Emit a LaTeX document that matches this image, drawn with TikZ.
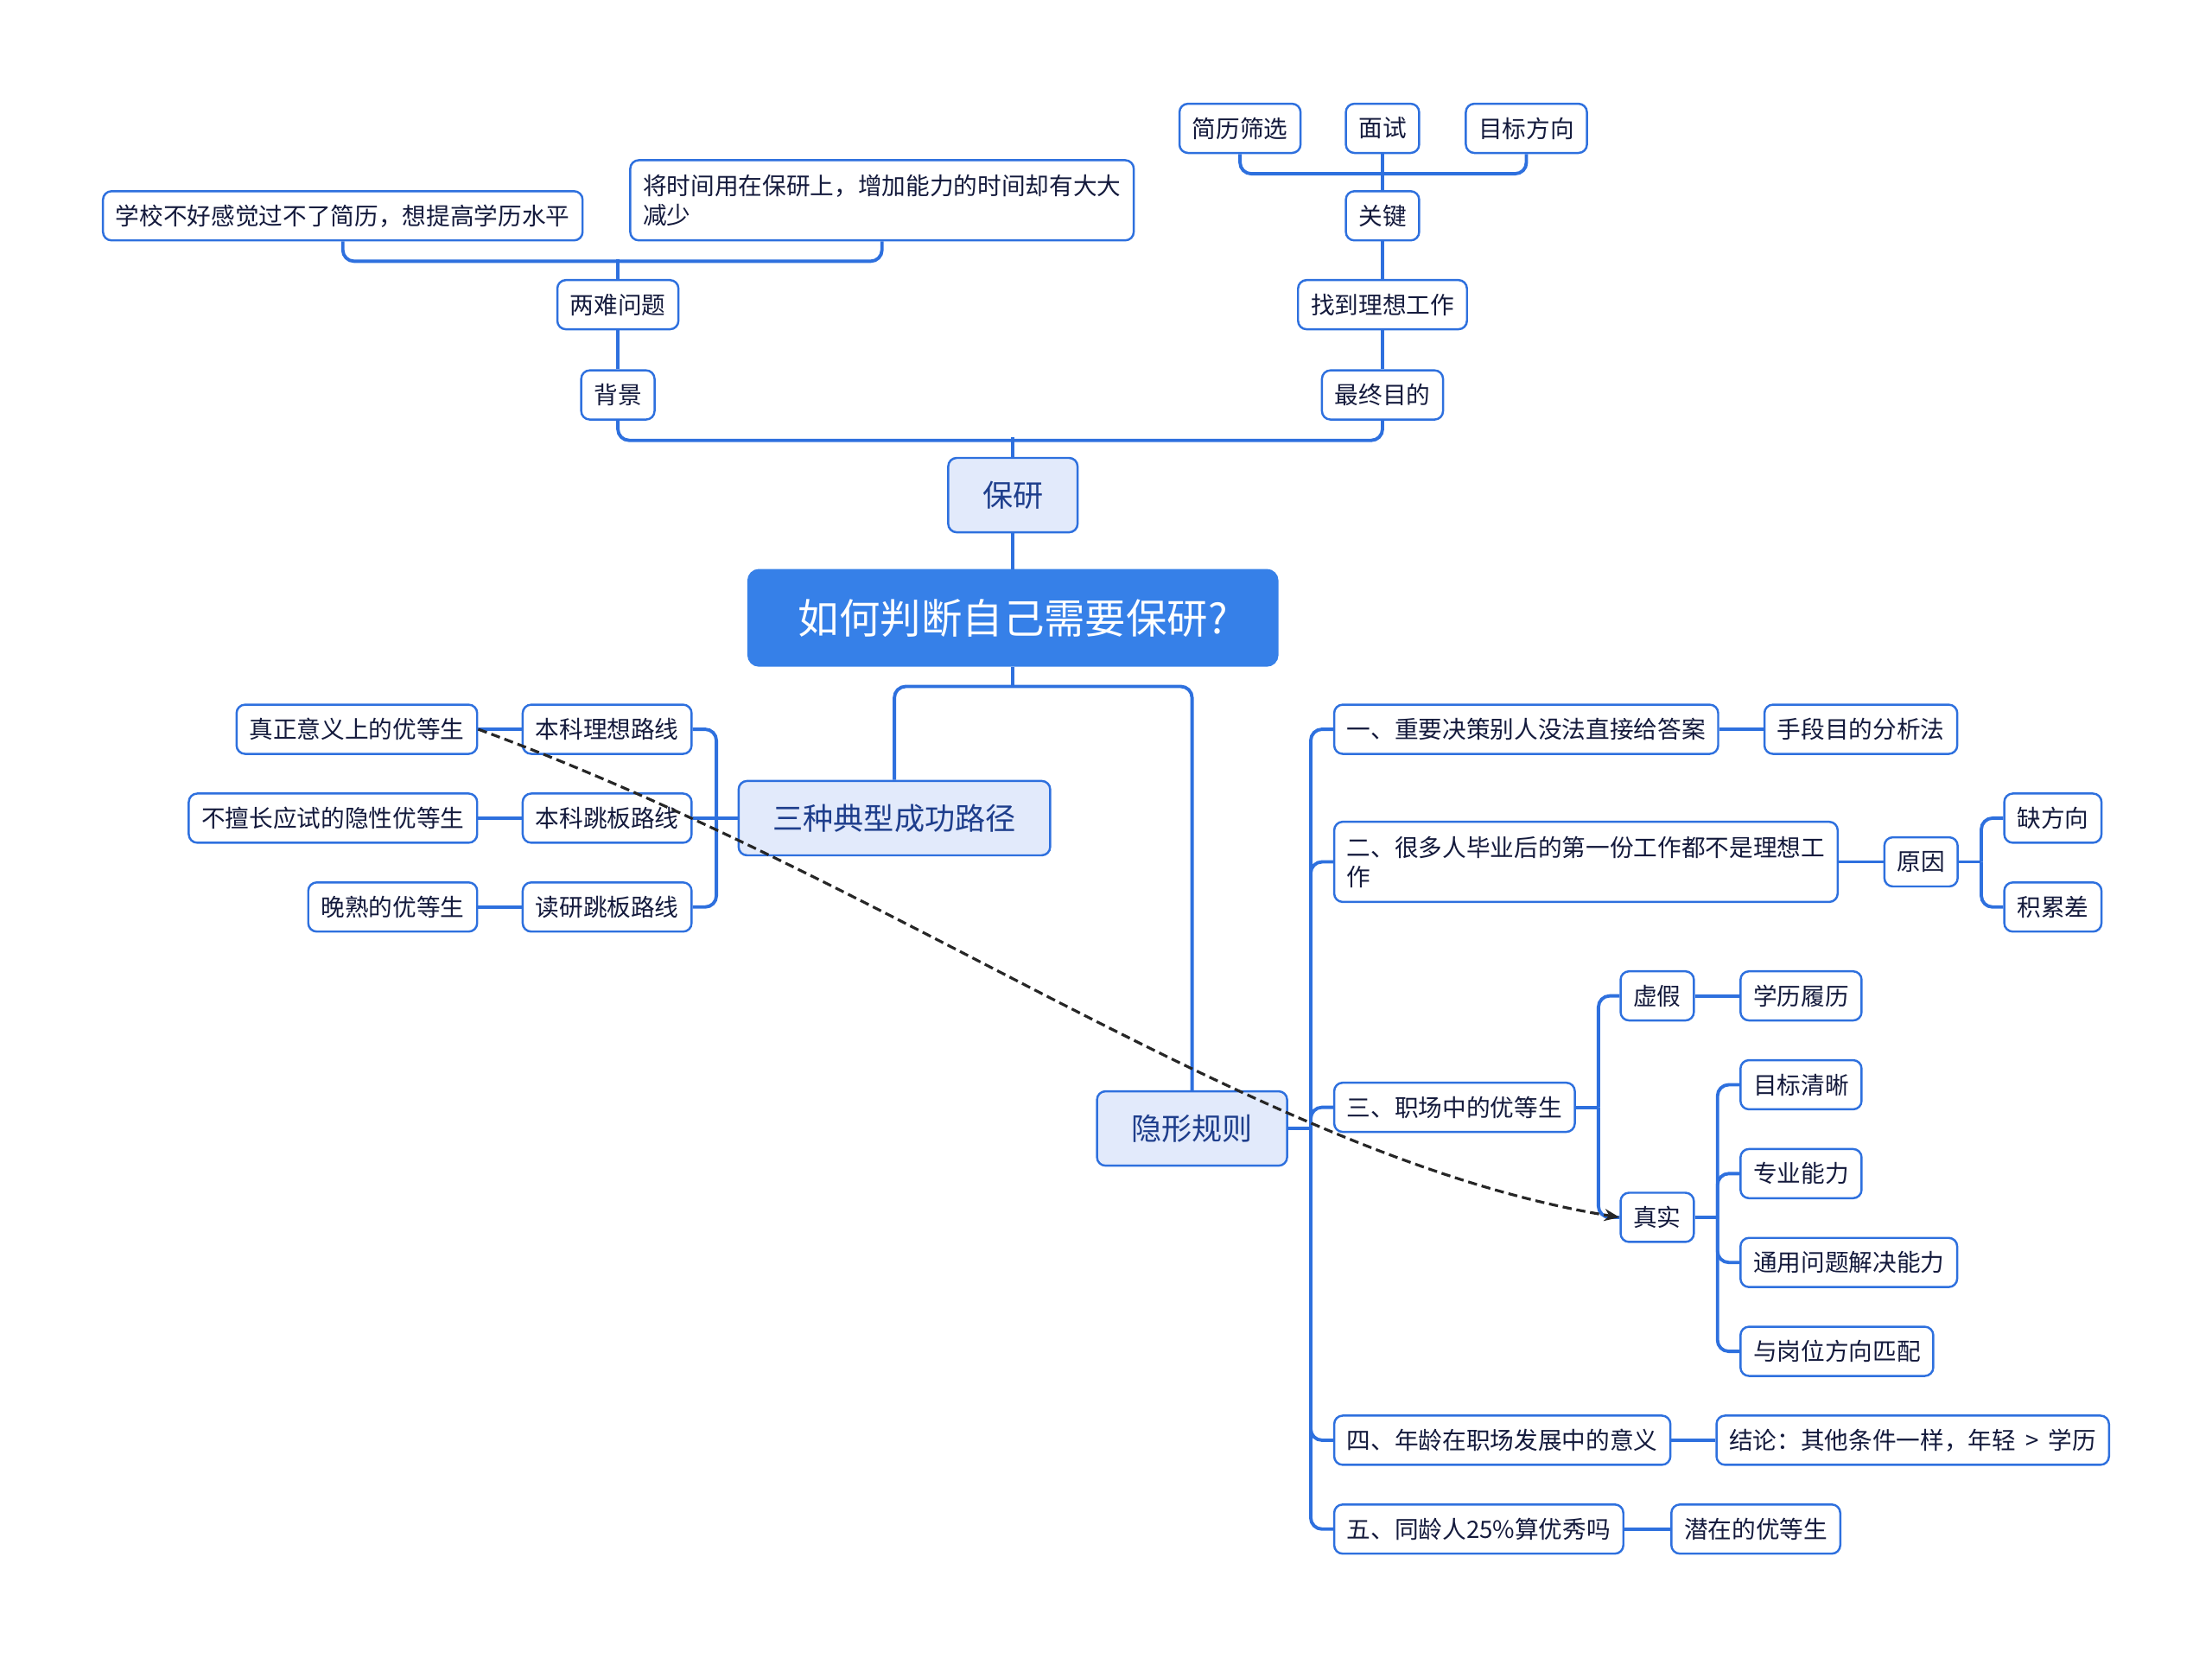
\documentclass[tikz,border=0pt]{standalone}
\usepackage{fontspec}
\setmainfont{Noto Sans CJK SC}
\usetikzlibrary{arrows.meta,calc}
\definecolor{lineblue}{RGB}{46,112,222}
\definecolor{rootfill}{RGB}{54,128,232}
\definecolor{lightfill}{RGB}{226,234,251}
\definecolor{txt}{RGB}{20,26,60}
\definecolor{txtblue}{RGB}{30,62,140}
\begin{document}
\begin{tikzpicture}[x=0.016327cm,y=-0.016327cm,
  box/.style={draw=lineblue, line width=0.7pt, rounded corners=2.8pt, fill=white, text=txt,
    font=\fontsize{7.87}{9.7}\selectfont, inner xsep=4.2pt, inner ysep=0pt, minimum height=16.2pt},
  multi/.style={box, align=left, minimum height=26.4pt},
  lvl/.style={box, fill=lightfill, text=txtblue, font=\fontsize{10}{12}\selectfont, inner xsep=11.3pt, minimum height=24.5pt},
  rootbox/.style={draw=rootfill, fill=rootfill, text=white, line width=0.7pt, rounded corners=3.5pt,
    font=\fontsize{13.5}{16}\selectfont, inner xsep=16.4pt, inner ysep=0pt, minimum height=31.5pt},
  conn/.style={draw=lineblue, line width=1.1pt, rounded corners=3.7pt},
  rel/.style={draw=black!85, line width=0.9pt, dash pattern=on 3pt off 1.6pt, -{Stealth[length=5pt,width=4pt]}}
]
\useasboundingbox (0,0) rectangle (1568,1175);
% nodes
\node[lvl] (baoyan) at (718,351) {保研};
\node[rootbox] (root) at (718,438) {如何判断自己需要保研?};
\node[box] (beijing) at (438,280) {背景};
\node[box] (liangnan) at (438,216) {两难问题};
\node[box] (xuexiao) at (243,153) {学校不好感觉过不了简历，想提高学历水平};
\node[multi, anchor=west] (jiang) at (446,142) {将时间用在保研上，增加能力的时间却有大大\\减少};
\node[box] (zuizhong) at (980,280) {最终目的};
\node[box] (zhaodao) at (980,216) {找到理想工作};
\node[box] (guanjian) at (980,153) {关键};
\node[box] (jianli) at (879,91) {简历筛选};
\node[box] (mianshi) at (980,91) {面试};
\node[box] (mubiao) at (1082,91) {目标方向};
\node[lvl] (sanzhong) at (634,580) {三种典型成功路径};
\node[lvl] (yinxing) at (845,800) {隐形规则};
% left
\node[box, anchor=east] (lx1) at (491,517) {本科理想路线};
\node[box, anchor=east] (lx2) at (491,580) {本科跳板路线};
\node[box, anchor=east] (lx3) at (491,643) {读研跳板路线};
\node[box, anchor=east] (ys1) at (339,517) {真正意义上的优等生};
\node[box, anchor=east] (ys2) at (339,580) {不擅长应试的隐性优等生};
\node[box, anchor=east] (ys3) at (339,643) {晚熟的优等生};
% right
\node[box, anchor=west] (r1) at (945,517) {一、重要决策别人没法直接给答案};
\node[box, anchor=west] (r1a) at (1250,517) {手段目的分析法};
\node[multi, anchor=west] (r2) at (945,611) {二、很多人毕业后的第一份工作都不是理想工\\作};
\node[box, anchor=west] (r2a) at (1335,611) {原因};
\node[box, anchor=west] (r2b) at (1420,580) {缺方向};
\node[box, anchor=west] (r2c) at (1420,643) {积累差};
\node[box, anchor=west] (r3) at (945,785) {三、职场中的优等生};
\node[box, anchor=west] (xujia) at (1148,706) {虚假};
\node[box, anchor=west] (xueli) at (1233,706) {学历履历};
\node[box, anchor=west] (zhenshi) at (1148,863) {真实};
\node[box, anchor=west] (zs1) at (1233,769) {目标清晰};
\node[box, anchor=west] (zs2) at (1233,832) {专业能力};
\node[box, anchor=west] (zs3) at (1233,895) {通用问题解决能力};
\node[box, anchor=west] (zs4) at (1233,958) {与岗位方向匹配};
\node[box, anchor=west] (r4) at (945,1021) {四、年龄在职场发展中的意义};
\node[box, anchor=west] (r4a) at (1216,1021) {结论：其他条件一样，年轻\hspace{0.4em}>\hspace{0.4em}学历};
\node[box, anchor=west] (r5) at (945,1084) {五、同龄人25\%算优秀吗};
\node[box, anchor=west] (r5a) at (1184,1084) {潜在的优等生};
% connectors top
\draw[conn] (baoyan.south) -- (root.north);
\draw[conn] (baoyan.north) -- ++(0,-14);
\draw[conn] (beijing.south) -- ++(0,14) -| (zuizhong.south);
\draw[conn] (beijing.north) -- (liangnan.south);
\draw[conn] (liangnan.north) -- ++(0,-14);
\draw[conn] (xuexiao.south) -- ++(0,14) -| (jiang.south);
\draw[conn] (zuizhong.north) -- (zhaodao.south);
\draw[conn] (zhaodao.north) -- (guanjian.south);
\draw[conn] (guanjian.north) -- (mianshi.south);
\draw[conn] (jianli.south) -- ++(0,14) -| (mubiao.south);
% root down
\coordinate (rj) at ($(root.south)+(0,14)$);
\draw[conn] (root.south) -- (rj);
\draw[conn] (sanzhong.north) |- (rj) -| (yinxing.north);
% left
\coordinate (lj) at ($(sanzhong.west)+(-15,0)$);
\draw[conn] (sanzhong.west) -- (lj);
\draw[conn] (lx1.east) -| (lj) |- (lx3.east);
\draw[conn] (lx2.east) -- (lj);
\draw[conn] (lx1.west) -- (ys1.east);
\draw[conn] (lx2.west) -- (ys2.east);
\draw[conn] (lx3.west) -- (ys3.east);
% right spine
\coordinate (sj) at ($(yinxing.east)+(16,0)$);
\draw[conn] (yinxing.east) -- (sj);
\draw[conn] (sj) |- (r1.west);
\draw[conn] (sj) |- (r2.west);
\draw[conn] (sj) |- (r3.west);
\draw[conn] (sj) |- (r4.west);
\draw[conn] (sj) |- (r5.west);
\draw[conn] (r1.east) -- (r1a.west);
\draw[conn] (r2.east) -- (r2a.west);
\coordinate (yj) at ($(r2a.east)+(16,0)$);
\draw[conn] (r2a.east) -- (yj);
\draw[conn] (yj) |- (r2b.west);
\draw[conn] (yj) |- (r2c.west);
\coordinate (tj) at ($(r3.east)+(16,0)$);
\draw[conn] (r3.east) -- (tj);
\draw[conn] (tj) |- (xujia.west);
\draw[conn] (tj) |- (zhenshi.west);
\draw[conn] (xujia.east) -- (xueli.west);
\coordinate (zj) at ($(zhenshi.east)+(16,0)$);
\draw[conn] (zhenshi.east) -- (zj);
\draw[conn] (zj) |- (zs1.west);
\draw[conn] (zj) |- (zs2.west);
\draw[conn] (zj) |- (zs3.west);
\draw[conn] (zj) |- (zs4.west);
\draw[conn] (r4.east) -- (r4a.west);
\draw[conn] (r5.east) -- (r5a.west);
% relation
\draw[rel] (ys1.east) .. controls +(300,110) and +(-250,-40) .. (zhenshi.west);
\end{tikzpicture}
\end{document}
